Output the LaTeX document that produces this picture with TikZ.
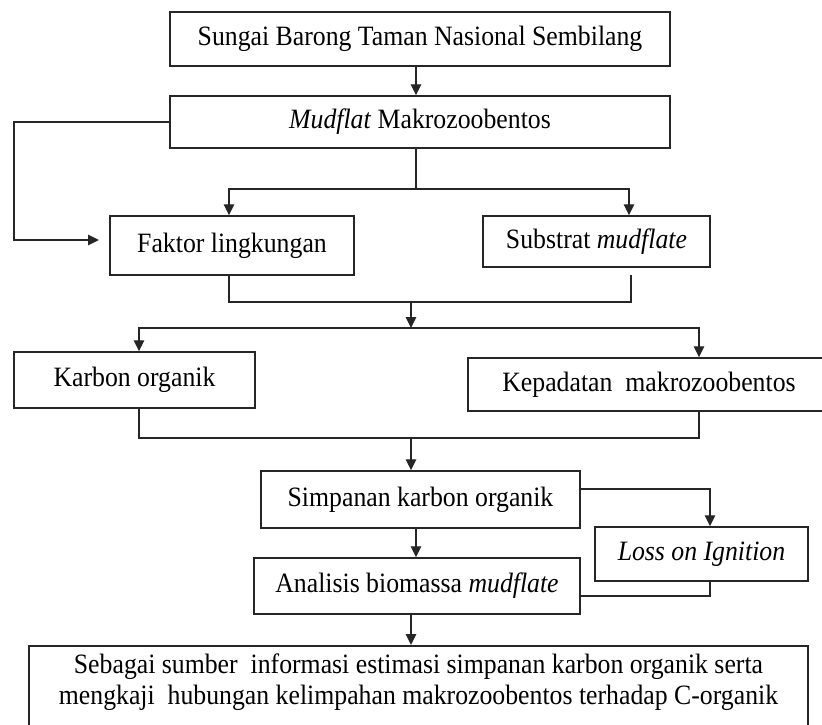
\documentclass[tikz,border=0pt]{standalone}
\usepackage{fontspec}
\setmainfont{Liberation Serif}[FakeStretch=0.92]
\usetikzlibrary{arrows.meta}
\begin{document}
\begin{tikzpicture}[x=1pt,y=-1pt,
  every node/.style={font=\fontsize{28}{31}\selectfont},
  box/.style={draw=black!85, line width=1.5pt, rectangle, inner sep=0pt, anchor=center},
  conn/.style={draw=black!85, line width=1.4pt},
  arr/.style={conn, -{Triangle[length=11pt,width=10.5pt]}}]
\fill[white] (0,0) rectangle (822,724);
\useasboundingbox (0,0) rectangle (822,724);

% boxes
\node[box, minimum width=500pt, minimum height=54pt] (b1) at (420,39) {Sungai Barong Taman Nasional Sembilang};
\node[box, minimum width=500pt, minimum height=52pt] (b2) at (420,122) {\textit{Mudflat} Makrozoobentos};
\node[box, minimum width=244pt, minimum height=59pt] (faktor) at (232,245.5) {Faktor lingkungan};
\node[box, minimum width=227pt, minimum height=51pt] (substrat) at (596.5,241.5) {Substrat \textit{mudflate}};
\node[box, minimum width=241pt, minimum height=56pt] (karbon) at (134.5,380) {Karbon organik};
\node[box, minimum width=362pt, minimum height=53pt] (kepadatan) at (649,384.5) {Kepadatan\ \ makrozoobentos};
\node[box, minimum width=319pt, minimum height=57pt] (simpanan) at (420.5,499.5) {Simpanan karbon organik};
\node[box, minimum width=213pt, minimum height=54pt] (loss) at (701.5,554) {\textit{Loss on Ignition}};
\node[box, minimum width=326pt, minimum height=56pt] (analisis) at (417,586) {Analisis biomassa \textit{mudflate}};
\node[box, minimum width=779pt, minimum height=110pt, anchor=north] (bot) at (418.5,645) {};
\node[align=center, inner sep=0pt] (bottxt) at (418.5,682.5) {Sebagai sumber\ \ informasi estimasi simpanan karbon organik serta\\mengkaji\ \ hubungan kelimpahan makrozoobentos terhadap C-organik};

% junction coordinates
\coordinate (a1) at (416,66);
\coordinate (lA) at (14,122);
\coordinate (lB) at (14,240);
\coordinate (lC) at (99,240);
\coordinate (j0) at (416,189);
\coordinate (jL) at (229,189);
\coordinate (jR) at (629,189);
\coordinate (k1) at (229,302);
\coordinate (k2) at (631,302);
\coordinate (k2t) at (631,275);
\coordinate (k0) at (411,302);
\coordinate (m0) at (411,328);
\coordinate (mL) at (139,328);
\coordinate (mR) at (699,328);
\coordinate (n1) at (139,438);
\coordinate (n2) at (699,438);
\coordinate (n0) at (411,438);
\coordinate (s1) at (710,489);
\coordinate (p1) at (710,596);

% connectors
\draw[arr] (a1) -- (a1 |- b2.north);
\draw[arr] (b2.west) -- (lA) -- (lB) -- (lC);
\draw[conn] (b2.south -| j0) -- (j0);
\draw[arr] (j0) -- (jL) -- (jL |- faktor.north);
\draw[arr] (j0) -- (jR) -- (jR |- substrat.north);
\draw[conn] (k1 |- faktor.south) -- (k1) -- (k2) -- (k2t);
\draw[arr] (k0) -- (m0);
\draw[arr] (m0) -- (mL) -- (mL |- karbon.north);
\draw[arr] (m0) -- (mR) -- (mR |- kepadatan.north);
\draw[conn] (n1 |- karbon.south) -- (n1) -- (n2) -- (n2 |- kepadatan.south);
\draw[arr] (n0) -- (n0 |- simpanan.north);
\draw[arr] (simpanan.east |- s1) -- (s1) -- (s1 |- loss.north);
\draw[arr] (a1 |- simpanan.south) -- (a1 |- analisis.north);
\draw[conn] (p1 |- loss.south) -- (p1) -- (analisis.east |- p1);
\draw[arr] (n0 |- analisis.south) -- (n0 |- bot.north);
\end{tikzpicture}
\end{document}
